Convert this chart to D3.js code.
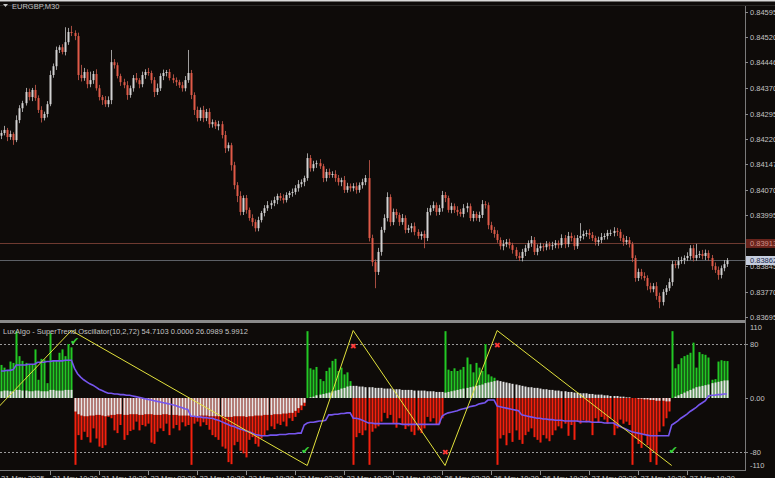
<!DOCTYPE html>
<html><head><meta charset="utf-8">
<script src="https://cdn.jsdelivr.net/npm/d3@7"></script>
<style>html,body{margin:0;padding:0;background:#0e0b09;overflow:hidden}svg{display:block}</style>
</head><body>
<svg id="c" width="775" height="478"></svg>
<script>
// ---------------- DATA ----------------
const symbolTitle = "EURGBP,M30";
const indicatorTitle = "LuxAlgo - SuperTrend Oscillator(10,2,72) 54.7103 0.0000 26.0989 5.9912";
const firstOpen = 84230; // price in points (1e-5)
const closes = [
84238,84247,84226,84235,84217,84276,84311,84326,84359,84344,84365,84341,84306,84282,84294,84323,84409,84435,84483,84491,
84477,84506,84536,84533,84524,84409,84400,84418,84382,84394,84412,84370,84344,84335,84323,84335,84447,84438,84406,84388,
84379,84350,84370,84400,84394,84382,84409,84418,84415,84394,84359,84370,84406,84415,84418,84400,84394,84388,84379,84370,
84394,84415,84350,84306,84282,84306,84282,84300,84264,84270,84258,84264,84232,84193,84202,84143,84084,84052,84005,84046,
84011,83987,83975,83957,83981,84002,84016,84025,84031,84040,84052,84046,84040,84055,84061,84064,84075,84087,84093,84105,
84164,84134,84146,84149,84140,84105,84123,84114,84117,84105,84093,84099,84070,84081,84075,84081,84070,84084,84093,84105,
83928,83857,83828,83887,83952,83987,84049,83975,84005,83996,83975,83987,83952,83957,83963,83946,83934,83940,83928,84005,
84016,84025,84005,84016,84055,84046,84011,84022,84011,84005,83999,84016,84022,83987,83999,83987,83996,84028,84025,83966,
83952,83940,83922,83904,83910,83916,83907,83893,83875,83869,83887,83898,83913,83922,83887,83898,83904,83901,83910,83904,
83907,83913,83907,83928,83910,83934,83928,83904,83928,83934,83940,83943,83937,83928,83916,83922,83931,83934,83943,83943,
83949,83946,83928,83916,83922,83910,83869,83810,83828,83816,83810,83786,83777,83786,83757,83739,83769,83780,83798,83851,
83848,83860,83863,83869,83875,83898,83869,83878,83881,83875,83884,83869,83845,83834,83819,83839,83851,83862];
const wickHi = [
8,12,6,10,5,14,9,7,12,10,6,15,8,11,7,9,13,8,10,6,
9,44,12,18,8,10,30,12,8,25,9,14,10,6,12,11,36,9,8,7,
10,12,8,9,15,6,10,8,12,7,9,14,8,10,6,9,11,8,7,10,
12,68,9,8,10,7,12,9,11,8,6,10,9,12,8,7,10,9,14,8,
9,7,11,8,10,6,9,12,8,10,7,9,11,8,6,10,9,12,8,7,
14,9,10,8,12,7,9,10,8,11,9,7,12,10,8,9,11,8,10,9,
53,10,8,12,9,11,14,8,10,9,7,12,8,10,9,11,8,7,10,12,
9,11,8,10,12,9,7,10,8,11,9,12,10,8,9,7,10,12,9,8,
10,9,11,8,12,9,10,7,8,11,9,10,8,12,9,11,10,8,9,7,
10,9,8,11,9,12,10,8,9,38,10,8,11,9,7,10,12,8,9,10,
11,9,8,10,12,9,7,8,10,9,11,8,10,9,12,10,8,9,11,10,
9,12,10,8,11,9,10,33,9,12,10,8,9,11,10,8,12,7];
const wickLo = [
10,7,12,8,14,6,9,11,7,10,12,8,9,13,7,10,6,8,11,9,
7,10,8,9,12,15,10,8,12,9,11,7,10,14,8,9,12,10,7,11,
9,14,8,10,7,12,9,11,8,10,15,9,8,12,10,7,9,11,8,10,
9,8,12,15,10,8,12,9,11,10,8,12,10,14,9,16,12,18,10,9,
11,8,12,10,9,7,10,8,11,9,12,8,10,7,9,11,8,10,9,12,
8,10,9,11,8,12,10,9,8,11,10,12,9,8,10,9,11,8,10,9,
10,12,48,9,11,8,10,12,9,10,11,8,10,9,12,10,8,11,30,9,
10,8,11,9,10,12,8,10,9,11,8,10,12,9,10,8,11,9,10,12,
9,11,8,10,12,9,10,11,8,9,10,12,8,11,9,10,8,12,9,10,
11,9,10,8,12,9,10,11,8,9,10,8,12,9,10,11,9,8,10,9,
10,12,9,11,8,10,12,11,9,10,8,12,10,9,11,18,10,9,8,11,
9,10,8,12,9,11,10,8,9,10,12,8,11,9,14,10,9,8];
const oscValues = [
49,45,40,54,52,99,62,55,52,50,50,72,27,58,57,22,96,55,56,67,72,62,80,75,
-99,-55,-62,-50,-58,-66,-45,-60,-72,-74,-70,-28,-30,-48,-52,-40,-62,-55,-49,-47,-35,-48,-40,-42,-38,-66,
-68,-50,-45,-49,-38,-55,-45,-40,-48,-36,-42,-40,-99,-38,-35,-42,-36,-40,-47,-55,-58,-62,-72,-75,-95,-98,
-70,-65,-78,-82,-88,-62,-58,-68,-72,-60,-55,-48,-42,-46,-38,-40,-35,-42,-30,-34,-28,-22,-18,-12,
99,44,42,46,28,25,40,45,55,58,40,45,35,38,25,
-99,-58,-52,-55,-48,-99,-50,-45,-42,-35,-22,-30,-25,-38,-44,-30,-40,-46,-42,-50,-55,-48,-52,-45,-28,-35,-30,-40,-38,-30,
99,42,40,44,40,42,46,60,50,38,52,45,40,80,35,32,30,
-99,-60,-55,-70,-52,-65,-48,-62,-68,-55,-50,-45,-58,-62,-66,-55,-60,-64,-55,-48,-42,-45,-38,-56,-40,-62,-35,-38,
-33,-36,-34,-55,-30,-36,-28,-32,-38,-30,-55,-45,-32,-38,-35,-40,-99,-60,-68,-74,-55,-70,-95,-78,-99,-50,-42,-30,-20,
99,44,50,59,62,64,67,82,45,68,65,64,60,27,28,54,56,55,54.7103];
const oscWhite = [
10,11,11,10,10,12,12,11,11,10,10,11,11,10,10,10,12,12,11,11,11,12,12,12,
-20,-24,-26,-27,-27,-26,-26,-25,-25,-26,-27,-26,-25,-25,-24,-24,-25,-25,-24,-24,-24,-25,-25,-24,-24,-24,
-25,-25,-25,-24,-24,-25,-25,-25,-26,-26,-26,-26,-27,-27,-27,-26,-26,-26,-27,-27,-27,-27,-27,-28,-28,-28,
-27,-27,-27,-27,-28,-27,-27,-26,-26,-26,-25,-25,-25,-24,-24,-24,-23,-23,-22,-22,-19,-15,-11,-7,
0,1,2,4,5,6,7,8,10,11,12,14,15,17,18,
18,18,17,17,16,16,16,15,15,15,14,14,14,13,13,13,12,12,12,12,11,11,11,11,10,10,10,9,9,9,
8,9,10,11,12,13,14,15,16,17,18,19,20,22,23,24,25,
26,25,24,23,22,21,20,19,18,17,16,16,15,15,14,13,13,12,12,11,11,10,10,9,9,8,8,7,
7,7,6,6,5,5,5,4,4,3,3,3,2,2,1,1,0,0,-1,-1,-2,-2,-3,-3,-4,-4,-4,-5,-5,
0,2,4,6,8,10,12,14,16,17,18,19,20,22,23,24,25,26,26.0989];
const signalValues = [
40,40,41,41,42,49,49,49,49,50,50,50,53,53,53,54,54,55,55,55,55,56,56,56,
44,36,31,27,24,21,19,16,13,11,9,7,7,6,6,5,5,4,4,3,2,1,0,-1,-2,-3,
-4,-5,-6,-7,-8,-9,-10,-11,-13,-14,-16,-17,-27,-27,-28,-28,-29,-29,-30,-30,-32,-33,-35,-37,-39,-41,
-42,-44,-46,-47,-49,-50,-52,-54,-55,-56,-56,-56,-55,-55,-55,-54,-54,-54,-53,-53,-53,-52,-52,-40,
-37,-36,-36,-35,-34,-34,-33,-25,-25,-24,-24,-23,-23,-22,-22,
-30,-30,-31,-33,-35,-37,-37,-38,-38,-38,-38,-38,-38,-38,-38,-38,-39,-39,-39,-39,-39,-39,-39,-39,-39,-39,-39,-39,-39,-27,
-24,-22,-21,-20,-19,-17,-16,-15,-13,-12,-11,-9,-8,-7,-3,-3,-3,
-12,-13,-14,-15,-16,-17,-18,-19,-25,-26,-27,-28,-29,-30,-30,-31,-31,-32,-32,-33,-33,-33,-34,-34,-34,-34,-34,-35,
-35,-35,-35,-36,-36,-36,-36,-37,-37,-37,-37,-40,-42,-44,-46,-48,-50,-51,-52,-53,-54,-55,-56,-56,-56,-56,-56,-56,-56,
-40,-37,-34,-30,-27,-24,-20,-17,-14,-10,-7,-4,3,4,4,5,5,6,5.9912];
const zigzagPivots = [[-19,-100],[23,100],[100,-100],[115,100],[145,-100],[162,100],[219,-100]];
const signalMarks = [[24,84,"check"],[99.5,-77,"check"],[115,78,"cross"],[145,-78,"cross"],[162,80,"cross"],[219.5,-77,"check"]];
const priceTicks = [0.84595,0.84520,0.84446,0.84370,0.84295,0.84220,0.84147,0.84070,0.83995,0.83845,0.83770,0.83695];
const oscTicks = [110,80,0,-80,-110];
const oscLevels = [80,-80];
const redLevel = 0.83913;
const timeTickBars = [0,16,32,48,64,80,96,112,128,144,160,176,192,208,224];
const timeTickLabels = ["21 May 2025","21 May 10:30","21 May 18:30","22 May 02:30","22 May 10:30","22 May 18:30","23 May 02:30","23 May 10:30","23 May 18:30","26 May 02:30","26 May 10:30","26 May 18:30","27 May 02:30","27 May 10:30","27 May 18:30"];

// ---------------- DRAW ----------------
const svg = d3.select("#c");
const W = 775, H = 478, plotR = 745;
const mainTop = 6, mainBot = 320, oscTop = 323, oscBot = 470;
const font = "'Liberation Sans', Arial, sans-serif";
const txtCol = "#c4c4c4";

svg.append("rect").attr("width", W).attr("height", H).attr("fill", "#0e0b09");

const x = d3.scaleLinear().domain([0, 243]).range([1, 745.2]);
const yP = d3.scaleLinear().domain([0.83695, 0.84595]).range([317, 12]);
const yO = d3.scaleLinear().domain([-110, 110]).range([472.25, 323.75]);

const defs = svg.append("defs");
defs.append("clipPath").attr("id", "cm").append("rect").attr("x", 0).attr("y", mainTop).attr("width", plotR).attr("height", mainBot - mainTop);
defs.append("clipPath").attr("id", "co").append("rect").attr("x", 0).attr("y", oscTop).attr("width", plotR).attr("height", oscBot - oscTop);

// frame
svg.append("rect").attr("x", 0).attr("y", 0).attr("width", W).attr("height", 1.5).attr("fill", "#d8d8d8");
svg.append("line").attr("x1", 0).attr("x2", W).attr("y1", 5.5).attr("y2", 5.5).attr("stroke", "#2a2826");
svg.append("rect").attr("x", 0).attr("y", 320).attr("width", plotR).attr("height", 3).attr("fill", "#8a8a8a");
svg.append("line").attr("x1", plotR + 0.5).attr("x2", plotR + 0.5).attr("y1", 6).attr("y2", 471).attr("stroke", "#7a7a7a");
svg.append("line").attr("x1", 0).attr("x2", plotR).attr("y1", 470.5).attr("y2", 470.5).attr("stroke", "#7a7a7a");

// candles
const bars = closes.map((c, i) => {
  const o = i ? closes[i - 1] : firstOpen;
  return { i, o: o / 1e5, c: c / 1e5, h: (Math.max(o, c) + wickHi[i]) / 1e5, l: (Math.min(o, c) - wickLo[i]) / 1e5 };
});
const gm = svg.append("g").attr("clip-path", "url(#cm)");
gm.append("line").attr("x1", 0).attr("x2", plotR).attr("y1", Math.round(yP(redLevel)) + 0.5).attr("y2", Math.round(yP(redLevel)) + 0.5).attr("stroke", "#6e3a30");
const lastClose = bars[bars.length - 1].c;
gm.append("line").attr("x1", 0).attr("x2", plotR).attr("y1", Math.round(yP(lastClose)) + 0.5).attr("y2", Math.round(yP(lastClose)) + 0.5).attr("stroke", "#5c6066");

const bull = "#d2d2d2", bear = "#e05a48";
gm.selectAll("rect.w").data(bars).join("rect").attr("class", "w")
  .attr("x", d => Math.round(x(d.i))).attr("width", 1)
  .attr("y", d => yP(d.h)).attr("height", d => Math.max(1, yP(d.l) - yP(d.h)))
  .attr("fill", d => d.c >= d.o ? "#b8b8b8" : "#c0584a").attr("opacity", 0.85);
gm.selectAll("rect.b").data(bars).join("rect").attr("class", "b")
  .attr("x", d => Math.round(x(d.i)) - 0.5).attr("width", 2)
  .attr("y", d => yP(Math.max(d.o, d.c))).attr("height", d => Math.max(1, Math.abs(yP(d.o) - yP(d.c))))
  .attr("fill", d => d.c >= d.o ? bull : bear);

// title
svg.append("path").attr("d", "M3,4 L8,4 L5.5,7 Z").attr("fill", "#c8c8c8");
svg.append("text").attr("x", 12).attr("y", 9).attr("font-family", font).attr("font-size", 7.5).attr("fill", txtCol).text(symbolTitle);

// price axis
const pa = svg.append("g");
priceTicks.forEach(p => {
  const yy = Math.round(yP(p)) + 0.5;
  pa.append("line").attr("x1", plotR).attr("x2", plotR + 3).attr("y1", yy).attr("y2", yy).attr("stroke", "#8a8a8a");
  pa.append("text").attr("x", 750).attr("y", yy + 2.6).attr("font-family", font).attr("font-size", 7.5).attr("fill", txtCol).text(p.toFixed(5));
});
const ry = Math.round(yP(redLevel)) + 0.5;
pa.append("rect").attr("x", plotR + 1).attr("y", ry - 4.5).attr("width", 30).attr("height", 9).attr("fill", "#6a241c");
pa.append("text").attr("x", 750).attr("y", ry + 2.6).attr("font-family", font).attr("font-size", 7.5).attr("fill", "#d09088").text(redLevel.toFixed(5));
const by = Math.round(yP(lastClose)) + 0.5;
pa.append("rect").attr("x", plotR + 1).attr("y", by - 4.5).attr("width", 30).attr("height", 9).attr("fill", "#c6cede");
pa.append("text").attr("x", 750).attr("y", by + 2.6).attr("font-family", font).attr("font-size", 7.5).attr("fill", "#1a2a50").text(lastClose.toFixed(5));

// oscillator
const go = svg.append("g").attr("clip-path", "url(#co)");
oscLevels.forEach(v => {
  go.append("line").attr("x1", 0).attr("x2", plotR).attr("y1", Math.round(yO(v)) + 0.5).attr("y2", Math.round(yO(v)) + 0.5)
    .attr("stroke", "#9a9a9a").attr("stroke-dasharray", "2,2");
});
const y0 = yO(0);
go.selectAll("rect.o").data(oscValues).join("rect").attr("class", "o")
  .attr("x", (v, i) => Math.round(x(i)) - 0.5).attr("width", 2)
  .attr("y", v => Math.min(y0, yO(v))).attr("height", v => Math.abs(yO(v) - y0))
  .attr("fill", v => v >= 0 ? "#22c825" : "#f4200e");
go.selectAll("rect.wh").data(oscWhite).join("rect").attr("class", "wh")
  .attr("x", (v, i) => Math.round(x(i)) - 0.5).attr("width", 2)
  .attr("y", v => Math.min(y0, yO(v))).attr("height", v => Math.abs(yO(v) - y0))
  .attr("fill", "#e6e6e6");
go.append("path").datum(signalValues)
  .attr("d", d3.line().x((v, i) => x(i)).y(v => yO(v)))
  .attr("fill", "none").attr("stroke", "#7656ee").attr("stroke-width", 1.6);
go.append("path").datum(zigzagPivots)
  .attr("d", d3.line().x(d => x(d[0])).y(d => yO(d[1])))
  .attr("fill", "none").attr("stroke", "#e2e23c").attr("stroke-width", 1);
go.selectAll("text.m").data(signalMarks).join("text").attr("class", "m")
  .attr("x", d => x(d[0])).attr("y", d => yO(d[1]) + 4).attr("text-anchor", "middle")
  .attr("font-family", "'DejaVu Sans', sans-serif").attr("font-size", d => d[2] === "check" ? 11 : 8)
  .attr("fill", d => d[2] === "check" ? "#3ad23a" : "#ff3a3a")
  .text(d => d[2] === "check" ? "\u2714" : "\u2716");

svg.append("text").attr("x", 3).attr("y", 333.5).attr("font-family", font).attr("font-size", 7.5).attr("fill", txtCol).text(indicatorTitle);

const oscLabelY = {110: 330, 80: yO(80) + 2.6, 0: yO(0) + 2.6, "-80": yO(-80) + 2.6, "-110": 468};
oscTicks.forEach(v => {
  const yy = Math.round(yO(v)) + 0.5;
  if (v !== 110 && v !== -110) svg.append("line").attr("x1", plotR).attr("x2", plotR + 3).attr("y1", yy).attr("y2", yy).attr("stroke", "#8a8a8a");
  svg.append("text").attr("x", 750).attr("y", oscLabelY[v]).attr("font-family", font).attr("font-size", 7.5).attr("fill", txtCol)
    .text(v === 0 ? "0.00" : String(v));
});

timeTickBars.forEach((b, k) => {
  const xx = Math.round(x(b)) + 0.5;
  if (k > 0) svg.append("line").attr("x1", xx).attr("x2", xx).attr("y1", 471).attr("y2", 475).attr("stroke", "#8a8a8a");
  svg.append("text").attr("x", k > 0 ? xx + 2 : 1).attr("y", 480.5).attr("font-family", font).attr("font-size", 7.5).attr("fill", txtCol).text(timeTickLabels[k]);
});
</script>
</body></html>
